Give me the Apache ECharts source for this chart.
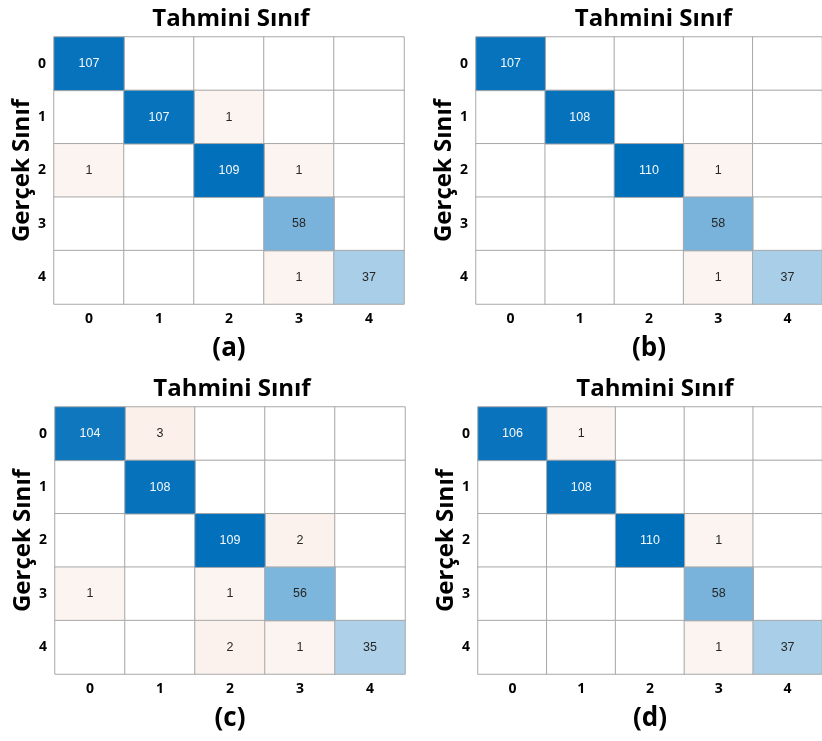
<!DOCTYPE html>
<html><head><meta charset="utf-8">
<script src="https://cdn.jsdelivr.net/npm/echarts@6/dist/echarts.min.js"></script>
<style>html,body{margin:0;padding:0;background:#fff}#c{width:822px;height:741px}</style>
</head><body><div id="c"></div>
<script>
const classes = ['0', '1', '2', '3', '4'];
const cmA = [[107,0,0,0,0],[0,107,1,0,0],[1,0,109,1,0],[0,0,0,58,0],[0,0,0,1,37]];
const cmB = [[107,0,0,0,0],[0,108,0,0,0],[0,0,110,1,0],[0,0,0,58,0],[0,0,0,1,37]];
const cmC = [[104,3,0,0,0],[0,108,0,0,0],[0,0,109,2,0],[1,0,1,56,0],[0,0,2,1,35]];
const cmD = [[106,1,0,0,0],[0,108,0,0,0],[0,0,110,1,0],[0,0,0,58,0],[0,0,0,1,37]];
const panelLabels = ['(a)', '(b)', '(c)', '(d)'];
const titleText = 'Tahmini Sınıf';
const yName = 'Gerçek Sınıf';

const matrices = [cmA, cmB, cmC, cmD];
const grids = [
  {left: 54, top: 37, width: 350, height: 267},
  {left: 476, top: 37, width: 351, height: 267},
  {left: 55, top: 407, width: 350, height: 267},
  {left: 478, top: 407, width: 350, height: 267}
];
const FONT = '"Open Sans", "Noto Sans", sans-serif';
const CELLFONT = '"Liberation Sans", Arial, sans-serif';
const chart = echarts.init(document.getElementById('c'), null, {renderer: 'canvas'});

const xAxes = [], yAxes = [], series = [], graphics = [];
matrices.forEach((m, p) => {
  const g = grids[p];
  xAxes.push({
    type: 'category', gridIndex: p, data: classes, position: 'bottom',
    axisLine: {show: false}, axisTick: {show: false}, splitLine: {show: false},
    axisLabel: {fontFamily: FONT, fontWeight: 'bold', fontSize: 14, color: '#000', margin: 8},
    name: panelLabels[p], nameLocation: 'middle', nameGap: 32,
    nameTextStyle: {fontFamily: FONT, fontWeight: 'bold', fontSize: 26, color: '#000'}
  });
  yAxes.push({
    type: 'category', gridIndex: p, data: classes, inverse: true,
    axisLine: {show: false}, axisTick: {show: false}, splitLine: {show: false},
    axisLabel: {fontFamily: FONT, fontWeight: 'bold', fontSize: 14, color: '#000', margin: 8},
    name: yName, nameLocation: 'middle', nameGap: 20, nameRotate: 90,
    nameTextStyle: {fontFamily: FONT, fontWeight: 'bold', fontSize: 24, color: '#000', verticalAlign: 'bottom'}
  });
  const diag = [], off = [];
  m.forEach((row, r) => row.forEach((v, c) => {
    (r === c ? diag : off).push([c, r, v]);
  }));
  const common = {
    type: 'heatmap', xAxisIndex: p, yAxisIndex: p,
    itemStyle: {borderColor: '#a8a8a8', borderWidth: 1},
    emphasis: {disabled: true},
    label: {
      show: true, fontFamily: CELLFONT, fontSize: 12.5,
      formatter: (d) => d.value[2] === 0 ? '' : (d.value[2] > 80 ? '{w|' + d.value[2] + '}' : '{k|' + d.value[2] + '}'),
      rich: {
        w: {color: '#f4f8fc', fontSize: 12.5, fontFamily: CELLFONT},
        k: {color: '#262626', fontSize: 12.5, fontFamily: CELLFONT}
      }
    }
  };
  series.push(Object.assign({}, common, {name: 'diag' + p, data: diag, z: 2}));
  series.push(Object.assign({}, common, {name: 'off' + p, data: off, z: 1}));
  graphics.push({
    type: 'text', x: g.left + g.width / 2 + 2, y: g.top - 18,
    style: {text: titleText, fontFamily: FONT, fontWeight: 'bold', fontSize: 24, fill: '#000',
            align: 'center', verticalAlign: 'middle', textAlign: 'center', textVerticalAlign: 'middle'}
  });
});

chart.setOption({
  animation: false,
  backgroundColor: '#ffffff',
  grid: grids.map(g => Object.assign({containLabel: false}, g)),
  xAxis: xAxes,
  yAxis: yAxes,
  visualMap: [
    {type: 'continuous', show: false, min: 0, max: 110, seriesIndex: [0, 2, 4, 6], dimension: 2,
     inRange: {color: ['#ffffff', '#006FBA']}},
    {type: 'piecewise', show: false, seriesIndex: [1, 3, 5, 7], dimension: 2,
     pieces: [{min: 0, max: 0, color: '#ffffff'}, {min: 1, max: 1, color: '#FCF4F0'},
              {min: 2, max: 2, color: '#FCF2ED'}, {min: 3, max: 3, color: '#FBF0EA'}]}
  ],
  graphic: graphics,
  series: series
});
</script>
</body></html>
